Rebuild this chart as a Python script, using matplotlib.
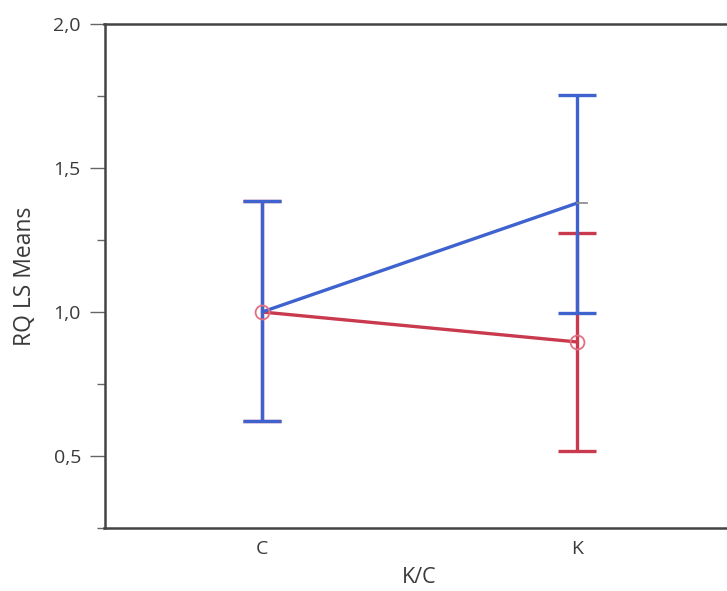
import matplotlib
matplotlib.use("Agg")
import matplotlib.pyplot as plt
from matplotlib.ticker import FixedLocator

categories = ["C", "K"]
red_mean = [1.0, 0.896]
red_low = [0.62, 0.517]
red_high = [1.385, 1.274]
blue_mean = [1.0, 1.378]
blue_low = [0.62, 0.997]
blue_high = [1.385, 1.753]
yticks = [0.5, 1.0, 1.5, 2.0]
yticklabels = ["0,5", "1,0", "1,5", "2,0"]
yminor = [0.25, 0.75, 1.25, 1.75]

plt.rcParams['font.family'] = ['Open Sans', 'DejaVu Sans']

fig = plt.figure(figsize=(7.27, 5.91), dpi=100)
ax = fig.add_axes([104.5/727, 1-528/591, 630/727, 504/591])

blue = '#3E63CF'
red = '#C93A4E'
pink = '#E36F82'
x = list(range(len(categories)))

def draw(mean, low, high, col, z):
    err = [[m - l for m, l in zip(mean, low)], [h - m for m, h in zip(mean, high)]]
    ax.errorbar(x, mean, yerr=err, fmt='none', ecolor=col, elinewidth=2.4,
                capsize=14, capthick=2.4, zorder=z)
    ax.plot(x, mean, color=col, lw=2.4, zorder=z + 0.1, solid_capstyle='butt')

draw(red_mean, red_low, red_high, red, 2)
draw(blue_mean, blue_low, blue_high, blue, 3)
ax.plot(x, red_mean, 'o', mfc='none', mec=pink, ms=10, mew=1.3, zorder=4)
# small grey tick at blue K mean
ax.plot([x[1], x[1] + 0.032], [blue_mean[1]] * 2, color='#888888', lw=1.2, zorder=4)

ax.set_xlim(-0.5, 1.5)
ax.set_ylim(0.25, 2.0)
ax.set_xticks(x)
ax.set_xticklabels(categories)
ax.yaxis.set_major_locator(FixedLocator(yticks))
ax.set_yticklabels(yticklabels)
ax.yaxis.set_minor_locator(FixedLocator(yminor))
ax.tick_params(axis='x', length=0, labelsize=14, labelcolor='#3a3a3a', pad=9)
ax.tick_params(axis='y', which='major', length=11, width=1, color='#666666',
               labelsize=14, labelcolor='#3a3a3a', pad=6)
ax.tick_params(axis='y', which='minor', length=6, width=1, color='#666666')
for s in ['left', 'top', 'bottom']:
    ax.spines[s].set_color('#444444')
    ax.spines[s].set_linewidth(1.8)
ax.spines['right'].set_visible(False)
ax.set_xlabel("K/C", fontsize=15.5, color='#3a3a3a', labelpad=6)
ax.set_ylabel("RQ LS Means", fontsize=16.5, color='#3a3a3a', labelpad=12)

fig.savefig("out.png", dpi=100)
